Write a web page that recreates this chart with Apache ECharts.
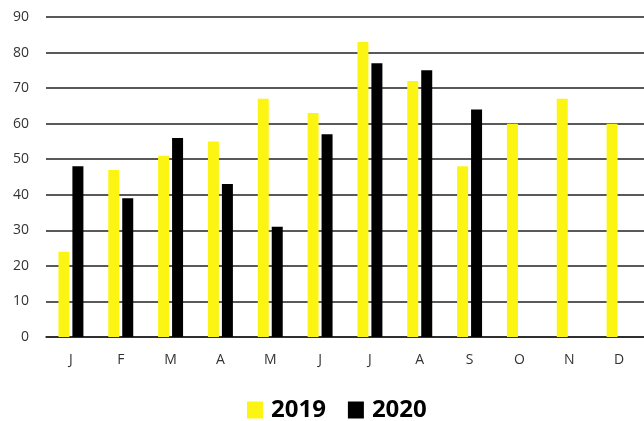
<!DOCTYPE html>
<html>
<head>
<meta charset="utf-8">
<script src="https://cdn.jsdelivr.net/npm/echarts@6/dist/echarts.min.js"></script>
<style>html,body{margin:0;padding:0;background:#fff}#c{width:644px;height:421px}</style>
</head>
<body>
<div id="c"></div>
<script>
const categories = ['J','F','M','A','M','J','J','A','S','O','N','D'];
const values2019 = [24,47,51,55,67,63,83,72,48,60,67,60];
const values2020 = [48,39,56,43,31,57,77,75,64,null,null,null];
const seriesNames = ['2019','2020'];

const chart = echarts.init(document.getElementById('c'));
chart.setOption({
  animation: false,
  backgroundColor: '#fff',
  grid: {left: 46, right: 0, top: 17, bottom: 84},
  legend: {
    top: 393, left: 242, itemWidth: 16, itemHeight: 17, itemGap: 22,
    icon: 'rect',
    textStyle: {fontSize: 24, fontWeight: 'bold', color: '#000', fontFamily: 'Open Sans', padding: [0,0,0,3]},
    data: seriesNames
  },
  xAxis: {
    type: 'category', data: categories,
    axisLine: {lineStyle: {color: '#222', width: 1.5}},
    axisTick: {show: false},
    axisLabel: {color: '#333', fontSize: 14, margin: 16, fontFamily: 'Open Sans'}
  },
  yAxis: {
    type: 'value', min: 0, max: 90, interval: 10,
    axisLine: {show: false}, axisTick: {show: false},
    splitLine: {lineStyle: {color: '#222', width: 1.5}},
    axisLabel: {color: '#333', fontSize: 14, margin: 17, fontFamily: 'Open Sans'}
  },
  series: [
    {name: seriesNames[0], type: 'bar', data: values2019, barWidth: 11, barGap: '27%',
     itemStyle: {color: '#FCF514'}},
    {name: seriesNames[1], type: 'bar', data: values2020, barWidth: 11,
     itemStyle: {color: '#000'}}
  ]
});
</script>
</body>
</html>
